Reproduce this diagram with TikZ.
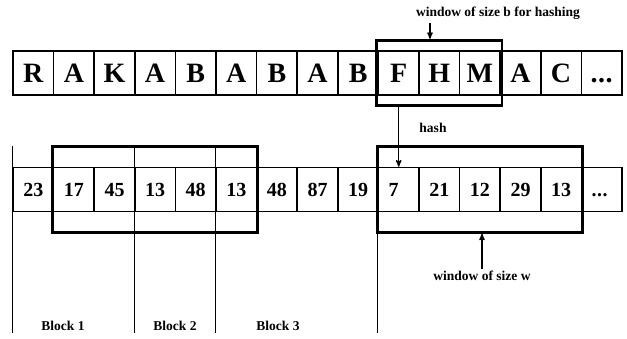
\documentclass[tikz,border=0pt]{standalone}
\usepackage{fontspec}
\setmainfont{Liberation Serif}
\usepackage{tikz}
\usetikzlibrary{arrows}
\usetikzlibrary{fit,calc}
\newcommand{\celldots}{.\kern0.5pt.\kern0.5pt.}
\tikzset{
  cell/.style={draw, line width=1.5pt, minimum width=40.6pt, minimum height=44pt, inner sep=0pt},
  letter/.style={cell, font=\bfseries\fontsize{28}{28}\selectfont, text height=18.5pt, text depth=0pt},
  number/.style={cell, font=\bfseries\fontsize{20}{20}\selectfont, text width=20pt, align=left, text height=13.5pt, text depth=0pt},
  winbox/.style={draw, line width=2.8pt, inner xsep=1pt, inner ysep=10pt},
  lbl/.style={font=\bfseries\fontsize{13.5}{13.5}\selectfont, inner sep=2pt},
  arr/.style={line width=1.3pt, ->, >=stealth'},
  blockline/.style={line width=0.7pt}
}

\begin{document}
\begin{tikzpicture}[x=1pt, y=-1pt]
\useasboundingbox (0,0) rectangle (627,339);
% string and its hashes
\foreach \c [count=\i from 0] in {R,A,K,A,B,A,B,A,B,F,H,M,A,C,\celldots} \node[letter] (t\i) at ({33.3+40.6*\i},73) {\c};
\foreach \v [count=\i from 0] in {23,17,45,13,48,13,48,87,19,7,21,12,29,13,\celldots} \node[number] (n\i) at ({33.3+40.6*\i},189.5) {\v};
% windows
\node[winbox, fit=(t9)(t11)] (wb) {};
\node[winbox, fit=(n1)(n5), inner xsep=0pt, inner ysep=20pt] (w1) {};
\node[winbox, fit=(n9)(n13), inner xsep=0pt, inner ysep=20pt] (w2) {};
\node[lbl] (lblb) at (498,13) {window of size b for hashing};
\coordinate (bt) at (430,23);
\draw[arr] (bt) -- (bt |- wb.north);
\node[lbl] (hashlbl) at (433,128) {hash};
\draw[arr] (t9 |- wb.south) -- (n9.north);
\node[lbl] (lblw) at (482,276) {window of size w};
\draw[arr] (lblw.north) -- (lblw.north |- w2.south);
% blocks
\coordinate (ltop) at (0,146);
\coordinate (lbot) at (0,333);
\foreach \k in {0,3,5,9} \draw[blockline] (n\k.west |- ltop) -- (n\k.west |- lbot);
\node[lbl] (blk1) at (63,326) {Block 1};
\node[lbl] (blk2) at (175,326) {Block 2};
\node[lbl] (blk3) at (278,326) {Block 3};
\end{tikzpicture}
\end{document}
